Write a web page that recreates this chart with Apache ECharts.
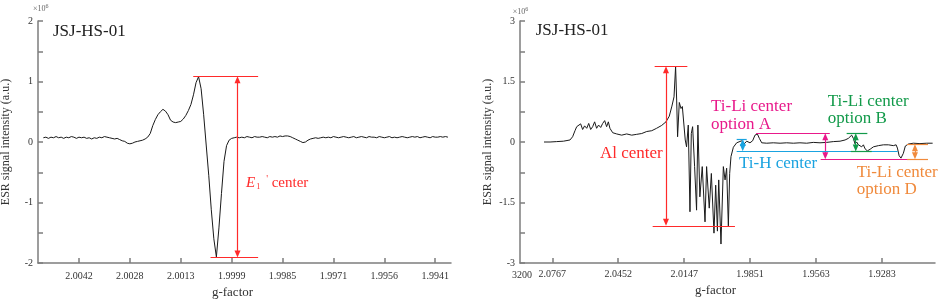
<!DOCTYPE html>
<html>
<head>
<meta charset="utf-8">
<script src="https://cdn.jsdelivr.net/npm/echarts@6/dist/echarts.min.js"></script>
<style>
html, body { margin: 0; padding: 0; background: #fff; }
#chart { width: 941px; height: 302px; }
</style>
</head>
<body>
<div id="chart"></div>
<script>
// ---- left panel: sample index vs intensity (x10^6) ----
var tickPosL = [14, 34, 54, 74, 94, 114, 134, 154];
var tickLabelsL = ['2.0042', '2.0028', '2.0013', '1.9999', '1.9985', '1.9971', '1.9956', '1.9941'];
var yLabelsL = [-2, -1, 0, 1, 2];
var intensityL = [
  0.07, 0.08, 0.06, 0.08, 0.07, 0.09, 0.07, 0.08, 0.06, 0.08,
  0.07, 0.09, 0.08, 0.06, 0.08, 0.07, 0.08, 0.06, 0.07, 0.05,
  0.07, 0.06, 0.08, 0.07, 0.09, 0.08, 0.07, 0.06, 0.05, 0.06,
  0.04, 0.02, 0.01, -0.02, -0.03, -0.02, 0.00, 0.01, 0.02, 0.03,
  0.05, 0.08, 0.14, 0.27, 0.37, 0.45, 0.50, 0.54, 0.51, 0.45,
  0.36, 0.33, 0.32, 0.33, 0.34, 0.38, 0.44, 0.52, 0.62, 0.78,
  0.98, 1.08, 0.88, 0.45, -0.05, -0.55, -1.12, -1.60, -1.90, -1.42,
  -0.85, -0.32, -0.06, 0.03, 0.06, 0.07, 0.08, 0.07, 0.08, 0.07,
  0.09, 0.08, 0.07, 0.09, 0.08, 0.08, 0.09, 0.08, 0.07, 0.09,
  0.08, 0.09, 0.08, 0.10, 0.09, 0.10, 0.10, 0.09, 0.07, 0.05,
  0.03, 0.01, -0.01, 0.00, 0.03, 0.05, 0.06, 0.07, 0.06, 0.07,
  0.08, 0.07, 0.08, 0.07, 0.09, 0.08, 0.07, 0.08, 0.09, 0.08,
  0.07, 0.08, 0.09, 0.07, 0.08, 0.09, 0.08, 0.07, 0.09, 0.08,
  0.08, 0.07, 0.09, 0.08, 0.07, 0.08, 0.09, 0.07, 0.08, 0.07,
  0.08, 0.09, 0.08, 0.07, 0.08, 0.09, 0.08, 0.09, 0.07, 0.08,
  0.09, 0.08, 0.07, 0.09, 0.08, 0.08, 0.09, 0.08, 0.09, 0.08
];
// E1' center marker: x, top level, bottom level, line starts
var e1Center = { x: 76.3, top: 1.09, bottom: -1.91, topFrom: 58.9, bottomFrom: 65.7, to: 84.4 };

// ---- right panel: field (G) vs intensity (x10^6) ----
var tickFieldR = [3250, 3300, 3350, 3400, 3450, 3500];
var tickLabelsR = ['2.0767', '2.0452', '2.0147', '1.9851', '1.9563', '1.9283'];
var yLabelsR = [-3, -1.5, 0, 1.5, 3];
var fieldR = [
  3243.7, 3248.3, 3253.3, 3258.4, 3263.4, 3265.4, 3267.2, 3268.5, 3270.0, 3271.5,
  3273.0, 3274.5, 3276.1, 3277.6, 3279.1, 3280.6, 3282.1, 3283.6, 3285.1, 3286.7,
  3288.2, 3289.7, 3291.2, 3292.5, 3293.7, 3295.8, 3298.8, 3302.6, 3306.4, 3310.2,
  3314.0, 3317.8, 3321.6, 3325.4, 3329.1, 3332.9, 3336.2, 3338.7, 3340.7, 3342.3,
  3343.5, 3344.3, 3345.0, 3346.3, 3347.6, 3348.6, 3349.6, 3350.8, 3351.8, 3353.1,
  3354.4, 3355.4, 3356.4, 3357.9, 3359.4, 3360.4, 3361.9, 3363.7, 3365.8, 3367.0,
  3369.0, 3370.6, 3372.6, 3373.9, 3375.2, 3376.2, 3377.9, 3379.7, 3381.0, 3382.2,
  3383.5, 3384.5, 3385.5, 3387.3, 3389.8, 3391.1, 3393.6, 3395.4, 3397.4, 3399.9,
  3401.9, 3403.7, 3405.5, 3407.0, 3408.8, 3412.6, 3417.6, 3422.7, 3427.7, 3432.8,
  3437.8, 3442.9, 3447.9, 3453.0, 3458.0, 3463.1, 3468.2, 3472.0, 3474.5, 3477.0,
  3478.3, 3479.6, 3480.8, 3482.1, 3483.4, 3484.6, 3485.9, 3487.2, 3488.9, 3491.0,
  3493.5, 3497.3, 3501.1, 3504.9, 3508.6, 3510.7, 3511.7, 3513.0, 3514.4, 3516.2,
  3517.7, 3520.0, 3523.8, 3528.8, 3533.9, 3538.4
];
var intensityR = [
  0.00, 0.00, 0.01, 0.02, 0.05, 0.13, 0.28, 0.38, 0.34, 0.45,
  0.31, 0.40, 0.34, 0.46, 0.31, 0.38, 0.50, 0.34, 0.42, 0.36,
  0.46, 0.53, 0.38, 0.50, 0.34, 0.23, 0.20, 0.17, 0.20, 0.17,
  0.19, 0.21, 0.26, 0.28, 0.34, 0.41, 0.50, 0.64, 0.89, 1.12,
  1.87, 1.04, 0.13, 0.98, 0.83, 0.88, 0.89, 0.05, -0.12, 0.42,
  -1.73, 0.21, 0.38, -0.61, -1.69, 0.42, -1.36, -0.61, -1.98, -0.61,
  -1.64, -0.78, -2.26, -1.07, -2.21, -0.94, -2.53, -0.61, -0.94, -0.65,
  -2.08, -0.78, -0.36, -0.13, -0.02, -0.02, 0.03, -0.05, 0.02, -0.02,
  0.03, 0.17, 0.20, 0.09, -0.02, -0.03, -0.02, -0.03, -0.02, -0.03,
  -0.02, -0.03, -0.01, -0.02, -0.01, 0.01, 0.02, 0.05, 0.09, 0.17,
  0.09, -0.05, 0.00, -0.07, -0.03, -0.12, -0.07, -0.17, -0.22, -0.18,
  -0.12, -0.09, -0.07, -0.07, -0.09, -0.07, -0.15, -0.34, -0.40, -0.28,
  -0.10, -0.05, -0.03, -0.04, -0.03, -0.03
];
// centre markers on the right: arrow x, top/bottom levels, line extents [from, to]
var alCenter  = { x: 3336.2, top: 1.88, bottom: -2.08, topSpan: [3327.6, 3352.4], bottomSpan: [3326.1, 3388.5] };
var tiLiA     = { x: 3457.0, top: 0.22, bottom: -0.43, topSpan: [3404.5, 3460.4], bottomSpan: [3453.5, 3531.8] };
var tiH       = { x: 3394.4, top: 0.07, bottom: -0.22, topSpan: [3389.8, 3397.4], bottomSpan: [3389.8, 3511.9] };
var tiLiB     = { x: 3480.1, top: 0.22, bottom: -0.24, topSpan: [3473.2, 3488.9], bottomSpan: [3476.3, 3492.2] };
var tiLiD     = { x: 3525.0, top: -0.05, bottom: -0.43, topSpan: [3519.0, 3534.9], bottomSpan: [3519.0, 3534.9] };

var FONT = 'Liberation Serif';
var AXIS_COLOR = '#7d7d7d';
var RED = '#ff2a2a', MAGENTA = '#e8198b', CYAN = '#1aa3e0', GREEN = '#129a4a', ORANGE = '#f08a3c';

function nearestLabel(v, pos, labels) {
  var best = 0;
  for (var i = 1; i < pos.length; i++) {
    if (Math.abs(pos[i] - v) < Math.abs(pos[best] - v)) best = i;
  }
  return labels[best];
}

function xAxisCfg(grid, min, max, ticks, labels, margin, nameGap) {
  return {
    type: 'value', gridIndex: grid, min: min, max: max,
    name: 'g-factor', nameLocation: 'middle', nameGap: nameGap,
    nameTextStyle: { fontFamily: FONT, fontSize: 13, color: '#333', padding: [0, 24, 0, 0] },
    axisLine: { onZero: false, lineStyle: { color: AXIS_COLOR, width: 1.5 } },
    axisTick: { inside: true, length: 5, customValues: ticks, lineStyle: { color: AXIS_COLOR, width: 1.5 } },
    axisLabel: {
      customValues: ticks, margin: margin, fontFamily: FONT, fontSize: 10, color: '#333',
      formatter: function (v) { return nearestLabel(v, ticks, labels); }
    },
    splitLine: { show: false }
  };
}

function yAxisCfg(grid, min, max, interval, labels) {
  return {
    type: 'value', gridIndex: grid, min: min, max: max, interval: interval,
    name: 'ESR signal intensity (a.u.)', nameLocation: 'middle', nameGap: 26,
    nameTextStyle: { fontFamily: FONT, fontSize: 12, color: '#333' },
    axisLine: { onZero: false, lineStyle: { color: AXIS_COLOR, width: 1.5 } },
    axisTick: { inside: true, length: 5, lineStyle: { color: AXIS_COLOR, width: 1.5 } },
    axisLabel: { customValues: labels, margin: 5, fontFamily: FONT, fontSize: 10, color: '#333' },
    splitLine: { show: false }
  };
}

// horizontal level lines + double arrow for one centre
function markerLines(m, color) {
  var st = { color: color, width: 1.2, type: 'solid' };
  var dy = (m.top - m.bottom) * 0.0;
  return [
    [{ coord: [m.topSpan[0], m.top], lineStyle: st }, { coord: [m.topSpan[1], m.top] }],
    [{ coord: [m.bottomSpan[0], m.bottom], lineStyle: st }, { coord: [m.bottomSpan[1], m.bottom] }],
    [{ coord: [m.x, m.top - m.pad], lineStyle: st, symbol: 'triangle', symbolSize: [6, 7], itemStyle: { color: color } },
     { coord: [m.x, m.bottom + m.pad], symbol: 'triangle', symbolSize: [6, 7], itemStyle: { color: color } }]
  ];
}

var e1 = { x: e1Center.x, top: e1Center.top, bottom: e1Center.bottom, pad: 0.06,
           topSpan: [e1Center.topFrom, e1Center.to], bottomSpan: [e1Center.bottomFrom, e1Center.to] };
alCenter.pad = 0.09; tiLiA.pad = 0.09; tiH.pad = 0.08; tiLiB.pad = 0.09; tiLiD.pad = 0.09;

var linesR = [].concat(
  markerLines(alCenter, RED), markerLines(tiLiA, MAGENTA), markerLines(tiH, CYAN),
  markerLines(tiLiB, GREEN), markerLines(tiLiD, ORANGE)
);

function txt(x, y, text, color, size, extra) {
  var style = { x: x, y: y, text: text, fill: color, fontFamily: FONT, fontSize: size,
                textAlign: 'left', textVerticalAlign: 'middle' };
  if (extra) for (var k in extra) style[k] = extra[k];
  return { type: 'text', silent: true, style: style };
}

var expRich = {
  a: { fontFamily: FONT, fontSize: 8, fill: '#666' },
  b: { fontFamily: FONT, fontSize: 6, fill: '#666', padding: [0, 0, 6, 0] }
};

var chart = echarts.init(document.getElementById('chart'), null, { renderer: 'canvas' });
chart.setOption({
  animation: false,
  backgroundColor: '#fff',
  grid: [
    { left: 38, top: 21, width: 413, height: 242, outerBoundsMode: 'none' },
    { left: 520, top: 21, width: 415, height: 242, outerBoundsMode: 'none' }
  ],
  xAxis: [
    xAxisCfg(0, -2.1, 160.2, tickPosL, tickLabelsL, 8, 23),
    xAxisCfg(1, 3225.5, 3540.2, tickFieldR, tickLabelsR, 6, 18)
  ],
  yAxis: [
    yAxisCfg(0, -2, 2, 0.5, yLabelsL),
    yAxisCfg(1, -3, 3, 0.75, yLabelsR)
  ],
  series: [
    {
      type: 'line', xAxisIndex: 0, yAxisIndex: 0, showSymbol: false, silent: true,
      lineStyle: { color: '#1a1a1a', width: 1 },
      data: intensityL.map(function (v, i) { return [i, v]; }),
      markLine: { silent: true, symbol: ['none', 'none'], label: { show: false },
                  data: markerLines(e1, RED) }
    },
    {
      type: 'line', xAxisIndex: 1, yAxisIndex: 1, showSymbol: false, silent: true,
      lineStyle: { color: '#1a1a1a', width: 1 },
      data: fieldR.map(function (b, i) { return [b, intensityR[i]]; }),
      markLine: { silent: true, symbol: ['none', 'none'], label: { show: false }, data: linesR }
    }
  ],
  graphic: [
    txt(53, 32, 'JSJ-HS-01', '#222', 17),
    txt(535.7, 31, 'JSJ-HS-01', '#222', 17),
    txt(33, 9, '{a|×10}{b|6}', '#666', 8, { rich: expRich }),
    txt(512.7, 12, '{a|×10}{b|6}', '#666', 8, { rich: expRich }),
    txt(522, 275, '3200', '#333', 10, { textAlign: 'center' }),
    txt(246, 183, '{e|E}{s|1}{p|\'}{c| center}', RED, 15, { rich: {
      e: { fontFamily: FONT, fontSize: 15, fontStyle: 'italic', fill: RED },
      s: { fontFamily: FONT, fontSize: 8, fill: RED, padding: [8, 0, 0, 1] },
      p: { fontFamily: FONT, fontSize: 10, fill: RED, padding: [0, 0, 8, 6] },
      c: { fontFamily: FONT, fontSize: 15, fill: RED }
    } }),
    txt(600, 154, 'Al center', RED, 17),
    txt(711, 107, 'Ti-Li center', MAGENTA, 17),
    txt(711, 124.5, 'option A', MAGENTA, 17),
    txt(739, 163.5, 'Ti-H center', CYAN, 17),
    txt(827.7, 102, 'Ti-Li center', GREEN, 17),
    txt(827.7, 119, 'option B', GREEN, 17),
    txt(856.7, 173, 'Ti-Li center', ORANGE, 17),
    txt(856.7, 190, 'option D', ORANGE, 17)
  ]
});
</script>
</body>
</html>
